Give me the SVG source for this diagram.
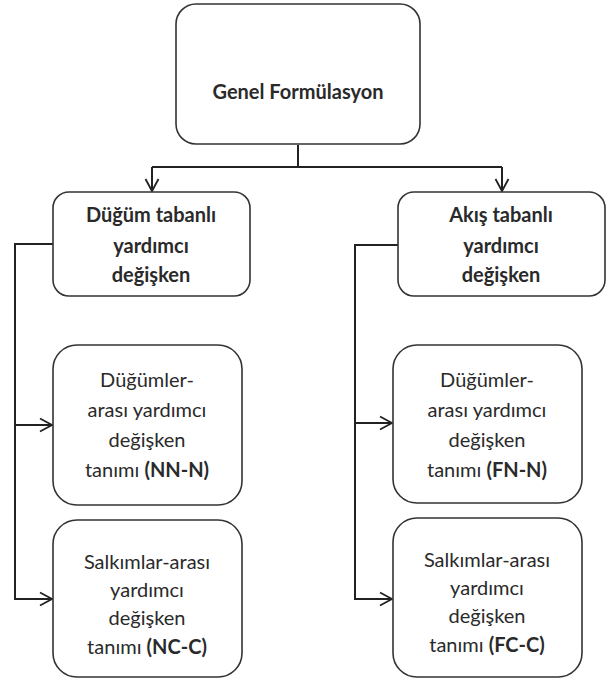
<svg xmlns="http://www.w3.org/2000/svg" width="607" height="681" viewBox="0 0 607 681">
<style>
.box{fill:#fff;stroke:#333;stroke-width:1.6}
.t{font-family:Lato,"Open Sans","Liberation Sans",sans-serif;font-size:20px;fill:#2a2a2a;text-anchor:middle}
.b{font-weight:bold}
.c{fill:none;stroke:#222;stroke-width:2}
</style>
<defs>
<marker id="ah" markerWidth="16" markerHeight="16" refX="13" refY="8" orient="auto" markerUnits="userSpaceOnUse">
<path d="M1,1.5 L13,8 L1,14.5" fill="none" stroke="#222" stroke-width="1.8"/>
</marker>
</defs>
<g id="connectors">
<polyline class="c" points="298,145 298,167"/>
<polyline class="c" points="152,167 502,167"/>
<polyline class="c" points="152,167 152,191" marker-end="url(#ah)"/>
<polyline class="c" points="502,167 502,191" marker-end="url(#ah)"/>
<polyline class="c" points="53,244 15,244 15,599 52,599" marker-end="url(#ah)"/>
<polyline class="c" points="15,425 52,425" marker-end="url(#ah)"/>
<polyline class="c" points="398,245 355,245 355,599 392,599" marker-end="url(#ah)"/>
<polyline class="c" points="355,423 392,423" marker-end="url(#ah)"/>
</g>
<g id="genel">
<rect class="box" x="176" y="4" width="244" height="140" rx="20"/>
<text class="t b" x="298" y="99">Genel Formülasyon</text>
</g>
<g id="dugum">
<rect class="box" x="53" y="192" width="197" height="104" rx="16"/>
<text class="t b" x="151" y="222">Düğüm tabanlı</text>
<text class="t b" x="151" y="253">yardımcı</text>
<text class="t b" x="151" y="282">değişken</text>
</g>
<g id="akis">
<rect class="box" x="398" y="192" width="207" height="104" rx="16"/>
<text class="t b" x="501" y="222">Akış tabanlı</text>
<text class="t b" x="501" y="253">yardımcı</text>
<text class="t b" x="501" y="282">değişken</text>
</g>
<g id="nnn">
<rect class="box" x="53" y="345" width="189" height="160" rx="24"/>
<text class="t" x="147" y="387">Düğümler-</text>
<text class="t" x="147" y="417">arası yardımcı</text>
<text class="t" x="147" y="447">değişken</text>
<text class="t" x="147" y="477">tanımı <tspan class="b">(NN-N)</tspan></text>
</g>
<g id="fnn">
<rect class="box" x="393" y="345" width="189" height="158" rx="24"/>
<text class="t" x="487" y="387">Düğümler-</text>
<text class="t" x="487" y="417">arası yardımcı</text>
<text class="t" x="487" y="447">değişken</text>
<text class="t" x="487" y="477">tanımı <tspan class="b">(FN-N)</tspan></text>
</g>
<g id="ncc">
<rect class="box" x="53" y="520" width="189" height="157" rx="24"/>
<text class="t" x="147" y="569">Salkımlar-arası</text>
<text class="t" x="147" y="597">yardımcı</text>
<text class="t" x="147" y="625">değişken</text>
<text class="t" x="147" y="654">tanımı <tspan class="b">(NC-C)</tspan></text>
</g>
<g id="fcc">
<rect class="box" x="393" y="518" width="189" height="159" rx="24"/>
<text class="t" x="487" y="567">Salkımlar-arası</text>
<text class="t" x="487" y="595">yardımcı</text>
<text class="t" x="487" y="623">değişken</text>
<text class="t" x="487" y="652">tanımı <tspan class="b">(FC-C)</tspan></text>
</g>
</svg>
